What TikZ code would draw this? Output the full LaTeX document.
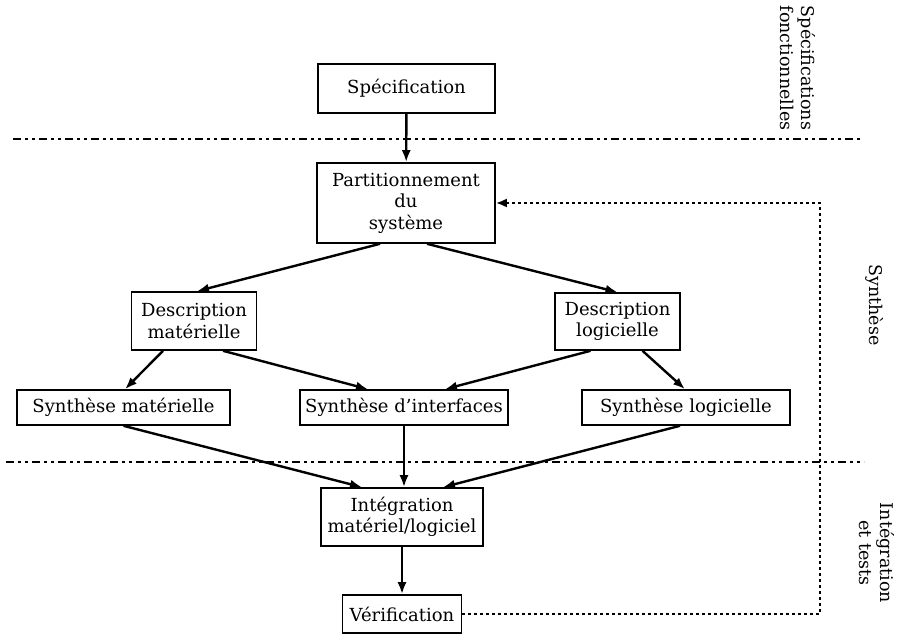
\documentclass[tikz,border=0pt]{standalone}
\usepackage{fontspec}
\setmainfont{DejaVu Serif}
\usetikzlibrary{arrows.meta}
\begin{document}
\begin{tikzpicture}[x=1pt,y=-1pt,
  box/.style={draw,line width=1.6pt,align=center,inner sep=2pt,
    font=\fontsize{18}{21.5}\selectfont},
  flow/.style={line width=2.4pt,-{Latex[length=12pt,width=9pt]}},
  phase/.style={line width=1.4pt,dash pattern=on 8pt off 4pt on 3pt off 4pt on 3pt off 4pt},
  feedback/.style={line width=2.2pt,dash pattern=on 2.5pt off 3.5pt,-{Latex[length=11pt,width=9pt]}},
  side/.style={rotate=-90,align=center,font=\fontsize{17.5}{21}\selectfont}]
\useasboundingbox (0,0) rectangle (897,636);

% phase separators
\coordinate (l1a) at (13,139);
\coordinate (l1b) at (860,139);
\coordinate (l2a) at (6,462);
\coordinate (l2b) at (864,462);
\draw[phase] (l1a) -- (l1b);
\draw[phase] (l2a) -- (l2b);

% boxes
\node[box,minimum width=177pt,minimum height=49pt] (spec) at (406.5,88.5) {Spécification};
\node[box,minimum width=178pt,minimum height=80pt] (part) at (406,203) {Partitionnement\\du\\système};
\node[box,minimum width=125pt,minimum height=58pt] (dmat) at (194,321) {Description\\matérielle};
\node[box,minimum width=125pt,minimum height=57pt] (dlog) at (617.5,321.5) {Description\\logicielle};
\node[box,minimum width=213pt,minimum height=35pt] (smat) at (123.5,407.5) {Synthèse matérielle};
\node[box,minimum width=208pt,minimum height=35pt] (sint) at (404,407.5) {Synthèse d’interfaces};
\node[box,minimum width=208pt,minimum height=35pt] (slog) at (686,407.5) {Synthèse logicielle};
\node[box,minimum width=162pt,minimum height=58pt] (integ) at (402,517) {Intégration\\matériel/logiciel};
\node[box,minimum width=119pt,minimum height=38pt] (verif) at (402,614) {Vérification};

% phase labels
\node[side] (lspec) at (798,68) {Spécifications\\fonctionnelles};
\node[side] (lsynth) at (875,305) {Synthèse};
\node[side] (linteg) at (877,553) {Intégration\\et tests};

% flow
\draw[flow] (spec) -- (part);
\draw[flow] ([xshift=-26pt]part.south) -- ([xshift=3pt]dmat.north);
\draw[flow] ([xshift=21pt]part.south) -- (dlog.north);
\draw[flow] ([xshift=-31pt]dmat.south) -- ([xshift=1.5pt]smat.north);
\draw[flow] ([xshift=29pt]dmat.south) -- ([xshift=-36pt]sint.north);
\draw[flow] ([xshift=-27pt]dlog.south) -- ([xshift=41pt]sint.north);
\draw[flow] ([xshift=25pt]dlog.south) -- ([xshift=-1pt]slog.north);
\draw[flow] (smat.south) -- ([xshift=-40pt]integ.north);
\draw[flow] (sint.south) -- (sint.south |- integ.north);
\draw[flow] ([xshift=-6pt]slog.south) -- ([xshift=41pt]integ.north);
\draw[flow] (integ) -- (verif);

% feedback loop
\coordinate (fb) at (820,614);
\draw[feedback] (verif.east) -- (fb) -- (fb |- part.east) -- (part.east);
\end{tikzpicture}
\end{document}
